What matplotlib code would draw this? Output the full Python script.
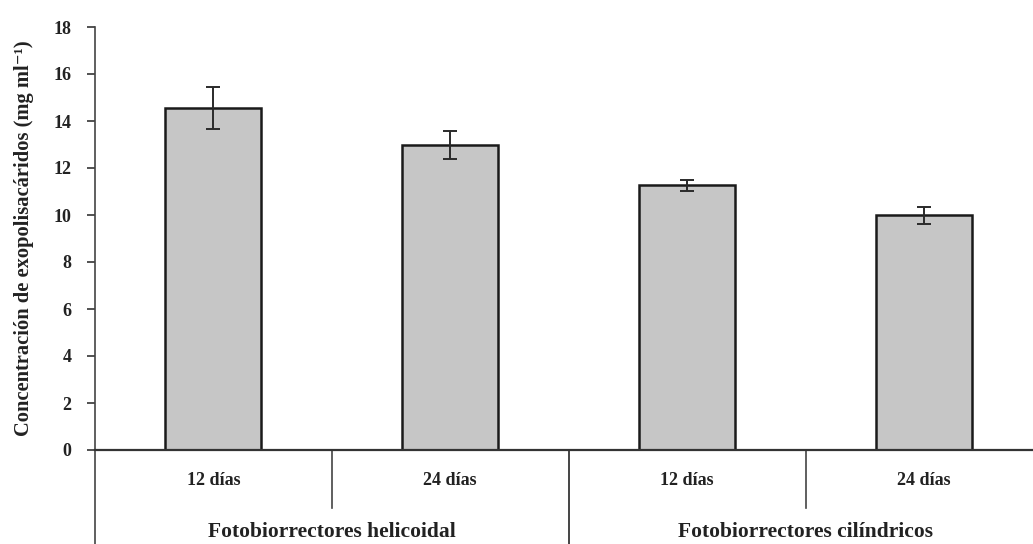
import matplotlib
matplotlib.use("Agg")
import matplotlib.pyplot as plt

periods = ["12 días", "24 días", "12 días", "24 días"]
groups = ["Fotobiorrectores helicoidal", "Fotobiorrectores cilíndricos"]
values = [14.55, 12.97, 11.27, 9.98]
errors = [0.9, 0.6, 0.24, 0.35]
yticks = [0, 2, 4, 6, 8, 10, 12, 14, 16, 18]

plt.rcParams['font.family'] = ['Liberation Serif', 'DejaVu Serif']

fig = plt.figure(figsize=(10.33, 5.44), dpi=100)
ax = fig.add_axes([95/1033, 94/544, (1033-95)/1033, (450-27)/544])

x = list(range(len(values)))
ax.bar(x, values, width=0.405, color='#c6c6c6', edgecolor='#1a1a1a', linewidth=1.8, zorder=2)
ax.errorbar(x, values, yerr=errors, fmt='none', ecolor='#2a2a2a', elinewidth=1.4,
            capsize=5, capthick=1.4, zorder=3)

ax.set_xlim(-0.5, 3.46)
ax.set_ylim(0, 18)
ax.set_yticks(yticks)
ax.set_yticklabels([str(t) for t in yticks], fontsize=13, fontweight='bold', color='#222222')
ax.tick_params(axis='y', direction='out', length=6, width=1.2, color='#333333', pad=11)
ax.set_xticks([])
for s in ['top', 'right']:
    ax.spines[s].set_visible(False)
ax.spines['left'].set_color('#444444')
ax.spines['left'].set_linewidth(1.2)
ax.spines['bottom'].set_color('#333333')
ax.spines['bottom'].set_linewidth(1.6)

ax.set_ylabel('Concentración de exopolisacáridos (mg ml⁻¹)', fontsize=14.8,
              fontweight='bold', color='#222222', labelpad=14)

# hierarchical category axis below the bars
lc = '#444444'
ax.plot([-0.5, -0.5], [0, -4.1], color=lc, lw=1.2, clip_on=False)
ax.plot([1.5, 1.5], [0, -4.1], color=lc, lw=1.4, clip_on=False)
for xv in [0.5, 2.5]:
    ax.plot([xv, xv], [0, -2.45], color=lc, lw=1.2, clip_on=False)

for xi, lab in zip(x, periods):
    ax.text(xi, -1.28, lab, ha='center', va='center', fontsize=13, fontweight='bold', color='#222222')
for gx, g in zip([0.5, 2.5], groups):
    ax.text(gx, -3.5, g, ha='center', va='center', fontsize=15.5, fontweight='bold', color='#222222')

fig.savefig('out.png', dpi=100, facecolor='white')
